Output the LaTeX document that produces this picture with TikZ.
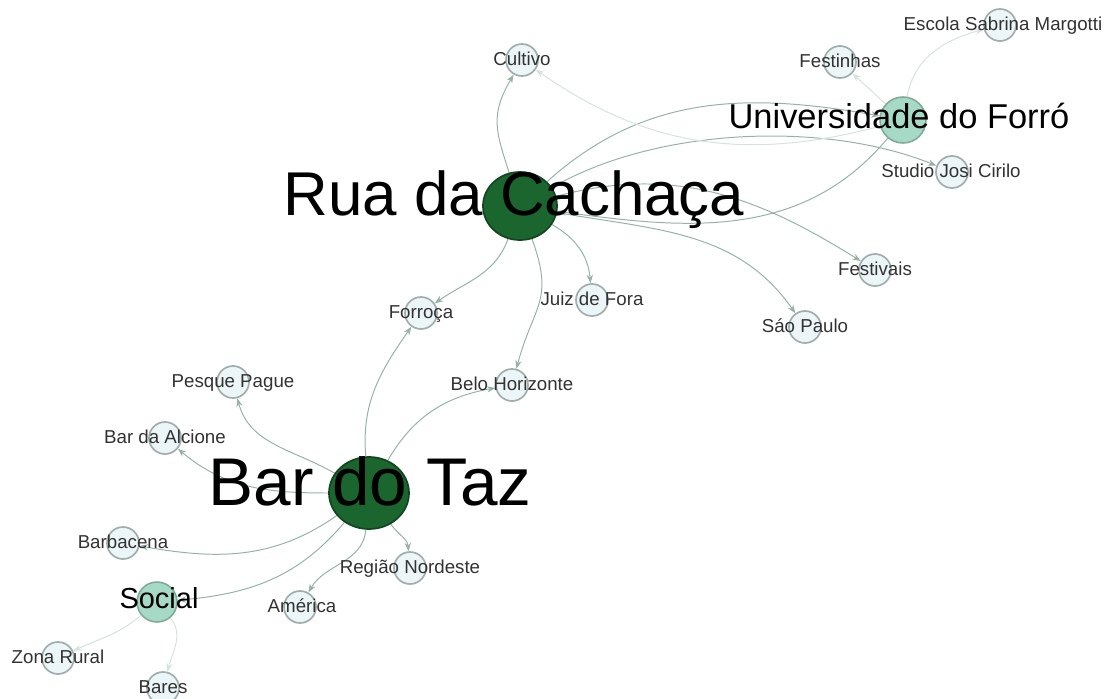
\documentclass[tikz,border=0pt]{standalone}
\usepackage{fontspec}
\setmainfont{Liberation Sans}
\usetikzlibrary{arrows.meta,backgrounds,shapes.geometric}
\definecolor{hubfill}{RGB}{26,102,46}
\definecolor{hubline}{RGB}{18,70,32}
\definecolor{midfill}{RGB}{166,217,198}
\definecolor{midline}{RGB}{128,170,152}
\definecolor{leaffill}{RGB}{236,245,248}
\definecolor{leafline}{RGB}{160,174,172}
\definecolor{linkgray}{RGB}{150,178,166}
\definecolor{faintgray}{RGB}{214,226,221}
\definecolor{lbltext}{RGB}{50,50,50}

\begin{document}
\begin{tikzpicture}[x=0.025cm,y=0.025cm,
	leaf/.style={circle,draw=leafline,fill=leaffill,line width=1.2pt,minimum size=0.8cm,inner sep=0pt},
	mid/.style={circle,draw=midline,fill=midfill,line width=1.1pt,inner sep=0pt},
	hub/.style={ellipse,draw=hubline,fill=hubfill,line width=1.2pt,inner sep=0pt},
	lbl/.style={text=lbltext,font=\fontsize{13.3}{15}\selectfont,anchor=base,inner sep=0pt},
	biglbl/.style={text=black,anchor=base,inner sep=0pt},
	link/.style={draw=linkgray,line width=0.7pt,-{Stealth[length=6pt,width=4.5pt]}},
	faint/.style={link,draw=faintgray}]

	%Frame of the picture
	\useasboundingbox (0,0) rectangle (1105,-698);

	%The three hubs and the two medium nodes
	\node[hub,minimum width=1.85cm,minimum height=1.7cm] (rua) at (520,-206) {};
	\node[hub,minimum width=2cm,minimum height=1.8cm] (bar) at (369,-493) {};
	\node[mid,minimum size=1.15cm] (univ) at (903,-120) {};
	\node[mid,minimum size=1cm] (social) at (157,-602) {};

	%Leaves
	\node[leaf] (cultivo) at (522,-60) {};
	\node[leaf] (festinhas) at (840,-62) {};
	\node[leaf] (escola) at (1000,-25) {};
	\node[leaf] (studio) at (952,-172) {};
	\node[leaf] (festivais) at (875,-270) {};
	\node[leaf] (saopaulo) at (805,-327) {};
	\node[leaf] (juiz) at (592,-300) {};
	\node[leaf] (forroca) at (421,-313) {};
	\node[leaf] (belo) at (512,-385) {};
	\node[leaf] (pesque) at (233,-382) {};
	\node[leaf] (alcione) at (165,-438) {};
	\node[leaf] (barbacena) at (123,-543) {};
	\node[leaf] (regiao) at (410,-568) {};
	\node[leaf] (america) at (300,-607) {};
	\node[leaf] (zona) at (58,-658) {};
	\node[leaf] (bares) at (163,-688) {};

	\begin{pgfonlayer}{background}
	%Edges of Rua da Cachaca
	\draw[link] (rua) to[out=108,in=240,looseness=1.2] (cultivo);
	\draw[link] (rua) to[out=42,in=170] (univ);
	\draw[link] (rua) to[out=30,in=158,looseness=0.8] (studio);
	\draw[link] (rua) to[out=15,in=148] (festivais);
	\draw[link] (rua) to[out=-10,in=125] (saopaulo);
	\draw[link] (rua) to[out=-30,in=95] (juiz);
	\draw[link] (rua) to[out=-70,in=75,looseness=1.3] (belo);
	\draw[link] (rua) to[out=-110,in=35] (forroca);

	%Edges of Universidade do Forro
	\draw[link] (univ) to[out=230,in=-8] (rua);
	\draw[faint] (univ) to[out=195,in=-35] (cultivo);
	\draw[faint] (univ) to (festinhas);
	\draw[faint] (univ) to[out=80,in=195] (escola);

	%Edges of Bar do Taz
	\draw[link] (bar) to[out=95,in=235] (forroca);
	\draw[link] (bar) to[out=60,in=190] (belo);
	\draw[link] (bar) to[out=150,in=-75] (pesque);
	\draw[link] (bar) to[out=180,in=-40] (alcione);
	\draw[link] (bar) to[out=215,in=-10] (barbacena);
	\draw[link] (bar) to[out=230,in=5] (social);
	\draw[link] (bar) to[out=-95,in=60] (america);
	\draw[link] (bar) to[out=-55,in=95] (regiao);

	%Edges of Social
	\draw[faint] (social) to[out=220,in=25] (zona);
	\draw[faint] (social) to[out=-50,in=75] (bares);
	\end{pgfonlayer}

	%Labels on top
	\path (rua.center)+(-6,-9) node[biglbl,font=\fontsize{44}{50}\selectfont] {Rua da Cachaça};
	\path (bar.center)+(1,-12) node[biglbl,font=\fontsize{48}{54}\selectfont] {Bar do Taz};
	\path (univ.center)+(-4,-8) node[biglbl,font=\fontsize{24.5}{28}\selectfont] {Universidade do Forró};
	\path (social.center)+(2,-6) node[biglbl,font=\fontsize{20.6}{24}\selectfont] {Social};

	\path (cultivo.center)+(0,-5) node[lbl] {Cultivo};
	\path (festinhas.center)+(0,-5) node[lbl] {Festinhas};
	\path (escola.center)+(3,-5) node[lbl] {Escola Sabrina Margotti};
	\path (studio.center)+(-1,-5) node[lbl] {Studio Josi Cirilo};
	\path (festivais.center)+(0,-5) node[lbl] {Festivais};
	\path (saopaulo.center)+(0,-5) node[lbl] {Sáo Paulo};
	\path (juiz.center)+(0,-5) node[lbl] {Juiz de Fora};
	\path (forroca.center)+(0,-5) node[lbl] {Forroça};
	\path (belo.center)+(0,-5) node[lbl] {Belo Horizonte};
	\path (pesque.center)+(0,-5) node[lbl] {Pesque Pague};
	\path (alcione.center)+(0,-5) node[lbl] {Bar da Alcione};
	\path (barbacena.center)+(0,-5) node[lbl] {Barbacena};
	\path (regiao.center)+(0,-5) node[lbl] {Região Nordeste};
	\path (america.center)+(2,-5) node[lbl] {América};
	\path (zona.center)+(0,-5) node[lbl] {Zona Rural};
	\path (bares.center)+(0,-5) node[lbl] {Bares};

\end{tikzpicture}
\end{document}
